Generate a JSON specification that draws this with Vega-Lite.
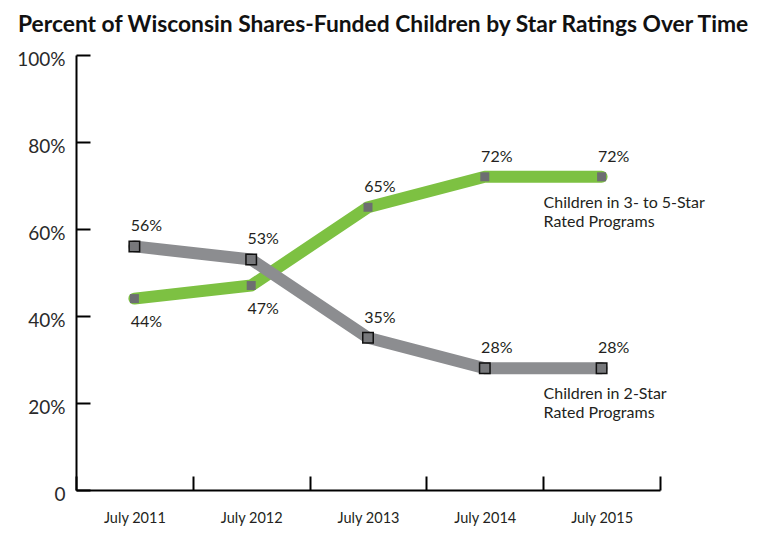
{
  "$schema": "https://vega.github.io/schema/vega-lite/v6.json",
  "width": 584,
  "height": 435,
  "autosize": "none",
  "padding": {"left": 76, "top": 55, "right": 106, "bottom": 47},
  "background": "white",
  "title": {
    "text": "Percent of Wisconsin Shares-Funded Children by Star Ratings Over Time",
    "anchor": "start",
    "frame": "group",
    "dx": -58,
    "font": "Lato",
    "fontSize": 22.8,
    "fontWeight": "bold",
    "color": "#111111",
    "offset": 13
  },
  "config": {
    "view": {"stroke": null},
    "axis": {
      "domainColor": "#000000",
      "domainWidth": 2,
      "tickColor": "#000000",
      "tickWidth": 2,
      "tickSize": -14,
      "grid": false,
      "title": null,
      "labelFont": "Lato",
      "labelColor": "#231f20"
    }
  },
  "datasets": {
    "main": [
      {"year": "July 2011", "series": "Children in 3- to 5-Star Rated Programs", "value": 0.44},
      {"year": "July 2012", "series": "Children in 3- to 5-Star Rated Programs", "value": 0.47},
      {"year": "July 2013", "series": "Children in 3- to 5-Star Rated Programs", "value": 0.65},
      {"year": "July 2014", "series": "Children in 3- to 5-Star Rated Programs", "value": 0.72},
      {"year": "July 2015", "series": "Children in 3- to 5-Star Rated Programs", "value": 0.72},
      {"year": "July 2011", "series": "Children in 2-Star Rated Programs", "value": 0.56},
      {"year": "July 2012", "series": "Children in 2-Star Rated Programs", "value": 0.53},
      {"year": "July 2013", "series": "Children in 2-Star Rated Programs", "value": 0.35},
      {"year": "July 2014", "series": "Children in 2-Star Rated Programs", "value": 0.28},
      {"year": "July 2015", "series": "Children in 2-Star Rated Programs", "value": 0.28}
    ],
    "labels": [
      {"year": "July 2015", "value": 0.72, "label": ["Children in 3- to 5-Star", "Rated Programs"]},
      {"year": "July 2015", "value": 0.28, "label": ["Children in 2-Star", "Rated Programs"]}
    ]
  },
  "encoding": {
    "x": {
      "field": "year",
      "type": "ordinal",
      "scale": {"paddingInner": 0, "paddingOuter": 0},
      "axis": {"labelAngle": 0, "labelFontSize": 14.5, "labelPadding": 35, "bandPosition": 0, "tickBand": "extent"}
    },
    "y": {
      "field": "value",
      "type": "quantitative",
      "scale": {"domain": [0, 1]},
      "axis": {"values": [0, 0.2, 0.4, 0.6, 0.8, 1], "format": ".0%", "labelExpr": "datum.value === 0 ? '0' : datum.label", "labelFontSize": 19, "labelPadding": 25, "labelOffset": 4, "labelColor": "#2a2a2a"}
    }
  },
  "layer": [
    {
      "data": {"name": "main"},
      "transform": [{"filter": "datum.series === 'Children in 3- to 5-Star Rated Programs'"}],
      "mark": {"type": "line", "strokeWidth": 12, "strokeCap": "round", "strokeJoin": "round", "color": "#7dc142"}
    },
    {
      "data": {"name": "main"},
      "transform": [{"filter": "datum.series === 'Children in 2-Star Rated Programs'"}],
      "mark": {"type": "line", "strokeWidth": 12, "strokeCap": "round", "strokeJoin": "round", "color": "#8c8d90"}
    },
    {
      "data": {"name": "main"},
      "transform": [{"filter": "datum.series === 'Children in 3- to 5-Star Rated Programs'"}],
      "mark": {"type": "point", "shape": "square", "filled": true, "size": 81, "color": "#6d6e71", "opacity": 1}
    },
    {
      "data": {"name": "main"},
      "transform": [{"filter": "datum.series === 'Children in 2-Star Rated Programs'"}],
      "mark": {"type": "point", "shape": "square", "filled": true, "size": 110, "fill": "#77787b", "stroke": "#111111", "strokeWidth": 1.5, "opacity": 1}
    },
    {
      "data": {"name": "main"},
      "transform": [{"filter": "!(datum.series === 'Children in 3- to 5-Star Rated Programs' && (datum.year === 'July 2011' || datum.year === 'July 2012'))"}],
      "mark": {"type": "text", "font": "Lato", "fontSize": 16, "color": "#231f20", "baseline": "middle", "align": "center", "dx": 12, "dy": -20},
      "encoding": {"text": {"field": "value", "type": "quantitative", "format": ".0%"}}
    },
    {
      "data": {"name": "main"},
      "transform": [{"filter": "datum.series === 'Children in 3- to 5-Star Rated Programs' && (datum.year === 'July 2011' || datum.year === 'July 2012')"}],
      "mark": {"type": "text", "font": "Lato", "fontSize": 16, "color": "#231f20", "baseline": "middle", "align": "center", "dx": 12, "dy": 23},
      "encoding": {"text": {"field": "value", "type": "quantitative", "format": ".0%"}}
    },
    {
      "data": {"name": "labels"},
      "mark": {"type": "text", "font": "Lato", "fontSize": 16, "color": "#231f20", "baseline": "alphabetic", "align": "left", "dx": -58, "dy": 31, "lineHeight": 19},
      "encoding": {"text": {"field": "label"}}
    }
  ]
}
